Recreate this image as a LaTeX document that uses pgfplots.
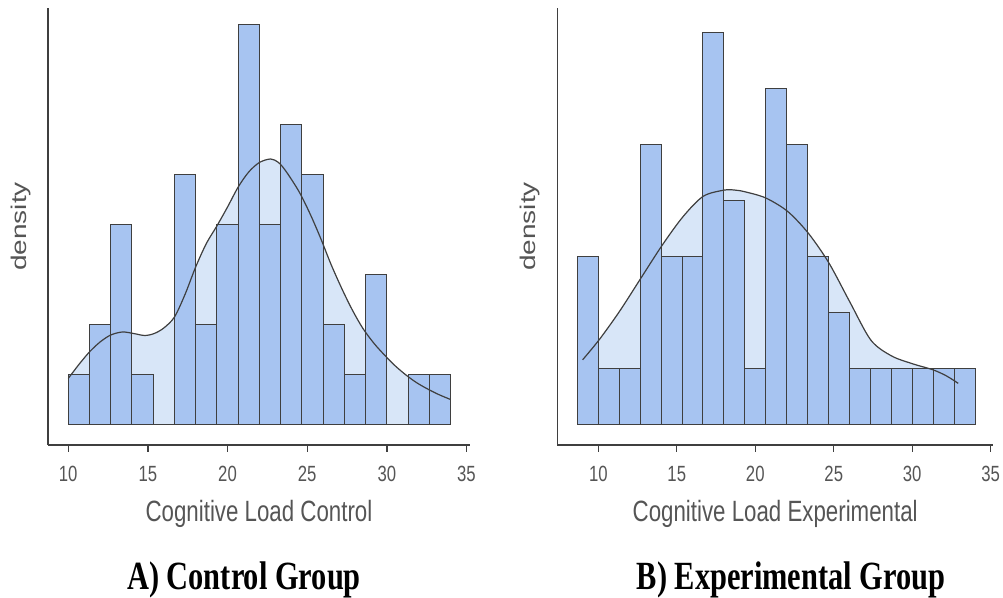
\documentclass[border=0pt]{standalone}
\usepackage{pgfplots}
\pgfplotsset{compat=1.18}
\usepackage{fontspec}
\setmainfont{Liberation Sans}[FakeStretch=0.76]
\newfontfamily\plainsans{Liberation Sans}
\newfontfamily\capfont{Liberation Serif}[FakeStretch=0.76]

\definecolor{barfill}{HTML}{A7C4F1}
\definecolor{densfill}{HTML}{D8E6F8}
\definecolor{edge}{HTML}{3F3F3F}
\definecolor{txt}{HTML}{555555}

\pgfplotsset{
  histo/.style={
    scale only axis,
    axis lines*=left,
    axis line style={edge, line width=1.1pt},
    ytick=\empty,
    xtick={10,15,20,25,30,35},
    tick align=outside,
    major tick length=5.25pt,
    tick style={edge, line width=1pt},
    /pgf/number format/assume math mode=true,
    tick label style={font=\fontsize{16.5}{18}\selectfont, text=txt},
    xticklabel style={anchor=base, yshift=-22.5pt},
    xlabel style={font=\fontsize{22}{24}\selectfont, text=txt,
      at={(axis description cs:0.5,0)}, anchor=base, yshift=-57.75pt},
    ylabel style={font=\plainsans\fontsize{21}{24}\selectfont, text=txt,
      at={(axis description cs:0,0.5)}, anchor=center, rotate=0, yscale=0.76, yshift=27pt},
    ylabel={density},
    clip=false,
  },
  bars/.style={ybar, bar width=1.33333, bar shift=0pt, fill=barfill, draw=edge, line width=0.75pt},
  densarea/.style={smooth, fill=densfill, draw=none},
  densline/.style={smooth, draw=edge, line width=0.9pt},
}

\begin{document}
\begin{tikzpicture}
\path[use as bounding box] (0,0) rectangle (752.25pt,448.5pt);

% A) control group
\begin{axis}[histo,
  at={(36pt,114.75pt)}, anchor=south west,
  width=316.5pt, height=327.75pt,
  xmin=8.73, xmax=35.22, ymin=-0.41, ymax=8.33,
  xlabel={Cognitive Load Control}]
\addplot[densarea] coordinates {
(10,0.92) (10.67,1.2) (11.33,1.45) (12.0,1.65) (12.67,1.79) (13.4,1.85)
(14.1,1.82) (14.8,1.78) (15.4,1.82) (16.0,1.93) (16.67,2.15) (17.33,2.6)
(18.0,3.15) (18.67,3.62) (19.33,3.97) (20.0,4.35) (20.67,4.75) (21.33,5.05)
(22.0,5.24) (22.7,5.31) (23.2,5.24) (23.7,5.05) (24.5,4.65) (25.2,4.2)
(25.85,3.72) (26.5,3.2) (27.2,2.7) (27.85,2.28) (28.5,1.92) (29.2,1.62)
(29.85,1.39) (30.5,1.18) (31.2,0.99) (31.85,0.84) (32.5,0.72) (33.25,0.6) (34,0.5)
} \closedcycle;
\addplot[bars] coordinates {
(10.667,1) (12.0,2) (13.333,4) (14.667,1) (16.0,0) (17.333,5)
(18.667,2) (20.0,4) (21.333,8) (22.667,4) (24.0,6) (25.333,5)
(26.667,2) (28.0,1) (29.333,3) (30.667,0) (32.0,1) (33.333,1)
};
\addplot[densline] coordinates {
(10,0.92) (10.67,1.2) (11.33,1.45) (12.0,1.65) (12.67,1.79) (13.4,1.85)
(14.1,1.82) (14.8,1.78) (15.4,1.82) (16.0,1.93) (16.67,2.15) (17.33,2.6)
(18.0,3.15) (18.67,3.62) (19.33,3.97) (20.0,4.35) (20.67,4.75) (21.33,5.05)
(22.0,5.24) (22.7,5.31) (23.2,5.24) (23.7,5.05) (24.5,4.65) (25.2,4.2)
(25.85,3.72) (26.5,3.2) (27.2,2.7) (27.85,2.28) (28.5,1.92) (29.2,1.62)
(29.85,1.39) (30.5,1.18) (31.2,0.99) (31.85,0.84) (32.5,0.72) (33.25,0.6) (34,0.5)
};
\end{axis}

% B) experimental group
\begin{axis}[histo,
  at={(418pt,114.75pt)}, anchor=south west,
  width=326.8pt, height=327.75pt,
  xmin=7.39, xmax=35.15, ymin=-0.37, ymax=7.43,
  xlabel={Cognitive Load Experimental}]
\addplot[densarea] coordinates {
(9.0,1.15) (10.06,1.51) (11.34,2.01) (12.65,2.58) (14.08,3.20) (15.41,3.71)
(16.69,4.07) (18.03,4.18) (18.7,4.18) (19.34,4.15) (20.66,4.04) (22.06,3.80)
(23.38,3.41) (24.69,2.88) (26.03,2.18) (27.37,1.5) (28.68,1.22) (30.02,1.08)
(31.34,0.97) (32.2,0.86) (32.93,0.73)
} \closedcycle;
\addplot[bars] coordinates {
(9.333,3) (10.667,1) (12.0,1) (13.333,5) (14.667,3) (16.0,3)
(17.333,7) (18.667,4) (20.0,1) (21.333,6) (22.667,5) (24.0,3)
(25.333,2) (26.667,1) (28.0,1) (29.333,1) (30.667,1) (32.0,1) (33.333,1)
};
\addplot[densline] coordinates {
(9.0,1.15) (10.06,1.51) (11.34,2.01) (12.65,2.58) (14.08,3.20) (15.41,3.71)
(16.69,4.07) (18.03,4.18) (18.7,4.18) (19.34,4.15) (20.66,4.04) (22.06,3.80)
(23.38,3.41) (24.69,2.88) (26.03,2.18) (27.37,1.5) (28.68,1.22) (30.02,1.08)
(31.34,0.97) (32.2,0.86) (32.93,0.73)
};
\end{axis}

\node[font=\capfont\bfseries\fontsize{30}{34}\selectfont, anchor=base] at (183pt,6pt) {A) Control Group};
\node[font=\capfont\bfseries\fontsize{30}{34}\selectfont, anchor=base] at (593.25pt,6pt) {B) Experimental Group};
\end{tikzpicture}
\end{document}
